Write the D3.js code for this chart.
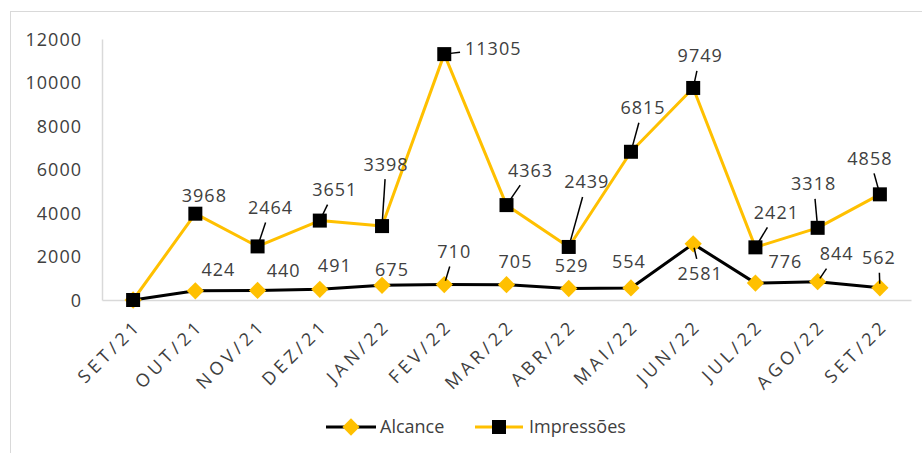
<!DOCTYPE html>
<meta charset="utf-8">
<style>
	body { margin: 0; background: #fff; }
	svg text { font-family: "Open Sans", sans-serif; fill: #404040; }
	.axis .domain { stroke: #d9d9d9; stroke-width: 1.5px; }
	.axis text { font-size: 18px; letter-spacing: 1px; }
	.xaxis text { letter-spacing: 4px; }
	.lbl { font-size: 18px; letter-spacing: 1px; }
	.leader { stroke: #000; stroke-width: 1.5px; }
</style>
<svg width="922" height="453"></svg>
<script src="https://d3js.org/d3.v7.min.js"></script>
<script>
	// data
	var months = ["SET/21", "OUT/21", "NOV/21", "DEZ/21", "JAN/22", "FEV/22", "MAR/22",
		"ABR/22", "MAI/22", "JUN/22", "JUL/22", "AGO/22", "SET/22"];
	var alcance = [0, 424, 440, 491, 675, 710, 705, 529, 554, 2581, 776, 844, 562];
	var impressoes = [0, 3968, 2464, 3651, 3398, 11305, 4363, 2439, 6815, 9749, 2421, 3318, 4858];
	var yTicks = [0, 2000, 4000, 6000, 8000, 10000, 12000];

	// label placement (offset of label centre from its point, leader line or not)
	var impLabels = [null, [9, -18, 0], [13, -39, 1], [15, -31, 1], [4, -62, 1], [49, -6, 1],
		[24, -35, 1], [18, -65, 1], [12, -44, 1], [7, -32, 1], [21, -35, 1], [-4, -44, 1], [-10, -36, 1]];
	var alcLabels = [null, [23, -21, 0], [26, -20, 0], [15, -24, 0], [10, -16, 0], [10, -33, 1],
		[9, -23, 0], [3, -23, 0], [-2, -26, 0], [7, 30, 1], [30, -22, 0], [19, -28, 1], [-1, -30, 1]];

	var yellow = "#FFC000";
	var svg = d3.select("svg");

	// chart frame
	svg.append("rect")
		.attr("x", 10.5).attr("y", 11.5)
		.attr("width", 1000).attr("height", 1000)
		.attr("fill", "none").attr("stroke", "#d9d9d9");

	var x = d3.scalePoint().domain(months).range([102, 911]).padding(0.5);
	var y = d3.scaleLinear().domain([0, 12000]).range([300, 39]);

	// axes
	svg.append("g")
		.attr("class", "axis")
		.attr("transform", "translate(102,0)")
		.call(d3.axisLeft(y).tickValues(yTicks).tickSize(0).tickPadding(20).tickFormat(d3.format("d")))
		.call(function(g) { g.selectAll("text").attr("dy", "0.36em"); });

	var gx = svg.append("g")
		.attr("class", "axis xaxis")
		.attr("transform", "translate(0,300)")
		.call(d3.axisBottom(x).tickSize(0));
	gx.selectAll("text")
		.attr("text-anchor", "end")
		.attr("x", 9).attr("y", 27).attr("dy", 0)
		.attr("transform", "rotate(-45,9,27)");

	// lines
	var line = function(vals) {
		return d3.line()
			.x(function(d, i) { return x(months[i]); })
			.y(function(d) { return y(d); })(vals);
	};
	svg.append("path").attr("d", line(impressoes))
		.attr("fill", "none").attr("stroke", yellow).attr("stroke-width", 3).attr("stroke-linejoin", "round");
	svg.append("path").attr("d", line(alcance))
		.attr("fill", "none").attr("stroke", "#000").attr("stroke-width", 3).attr("stroke-linejoin", "round");

	// data labels + leaders
	var labelLayer = svg.append("g");
	var leaderLayer = svg.append("g");
	function addLabels(vals, place) {
		vals.forEach(function(v, i) {
			var p = place[i];
			if (!p) return;
			var px = x(months[i]), py = y(v);
			var cx = px + p[0], cy = py + p[1];
			var t = labelLayer.append("text")
				.attr("class", "lbl")
				.attr("x", cx).attr("y", cy).attr("dy", "0.36em")
				.attr("text-anchor", "middle")
				.text(v);
			if (p[2]) {
				// leader from marker edge toward label centre, stopping at padded label box
				var hw = t.node().getComputedTextLength() / 2 + 5, hh = 15;
				var dx = px - cx, dy = py - cy;
				var s = Math.min(dx ? hw / Math.abs(dx) : 1e9, dy ? hh / Math.abs(dy) : 1e9);
				var ex = cx + dx * s, ey = cy + dy * s;
				var lx = ex - px, ly = ey - py, len = Math.sqrt(lx * lx + ly * ly);
				var st = Math.min(4, len * 0.3);
				leaderLayer.append("line")
					.attr("class", "leader")
					.attr("x1", px + lx / len * st).attr("y1", py + ly / len * st)
					.attr("x2", ex).attr("y2", ey);
			}
		});
	}

	// markers
	svg.append("g").selectAll("path")
		.data(alcance).enter().append("path")
		.attr("d", d3.symbol().type(d3.symbolDiamond2).size(190))
		.attr("transform", function(d, i) { return "translate(" + x(months[i]) + "," + y(d) + ")"; })
		.attr("fill", yellow);
	svg.append("g").selectAll("rect")
		.data(impressoes).enter().append("rect")
		.attr("x", function(d, i) { return x(months[i]) - 7; })
		.attr("y", function(d) { return y(d) - 7; })
		.attr("width", 14).attr("height", 14)
		.attr("fill", "#000");

	addLabels(impressoes, impLabels);
	addLabels(alcance, alcLabels);
	leaderLayer.raise();

	// legend
	var legend = svg.append("g").attr("transform", "translate(0,427)");
	legend.append("line").attr("x1", 326).attr("x2", 376).attr("stroke", "#000").attr("stroke-width", 3);
	legend.append("path").attr("d", d3.symbol().type(d3.symbolDiamond2).size(190))
		.attr("transform", "translate(351,0)").attr("fill", yellow);
	legend.append("text").attr("x", 380).attr("dy", "0.36em").style("font-size", "18px").text("Alcance");
	legend.append("line").attr("x1", 475).attr("x2", 523).attr("stroke", yellow).attr("stroke-width", 3);
	legend.append("rect").attr("x", 492).attr("y", -7).attr("width", 14).attr("height", 14).attr("fill", "#000");
	legend.append("text").attr("x", 529).attr("dy", "0.36em").style("font-size", "18px").text("Impressões");
</script>
